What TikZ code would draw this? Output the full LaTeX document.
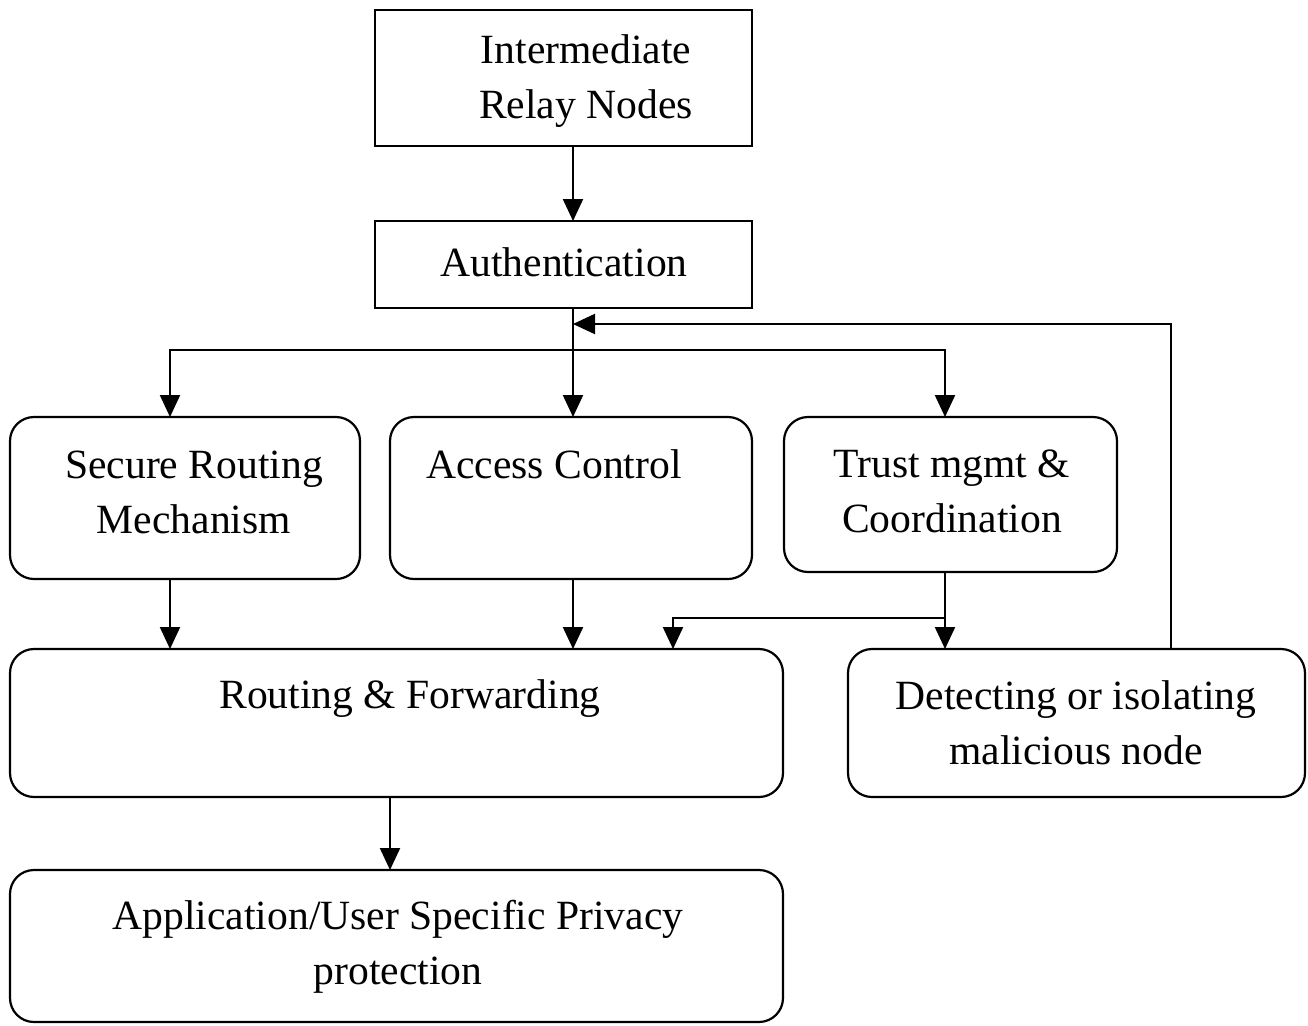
\documentclass[tikz,border=0pt]{standalone}
\usepackage{fontspec}
\setmainfont{Liberation Serif}
\usetikzlibrary{arrows.meta}
\begin{document}
\begin{tikzpicture}[x=0.5pt,y=-0.5pt,
  box/.style={draw,line width=1.1pt,inner sep=0pt,outer sep=0pt},
  rbox/.style={box,rounded corners=12pt},
  txt/.style={inner sep=0pt,align=center,font=\fontsize{20.8}{27.5}\selectfont},
  arr/.style={line width=1.1pt,-{Triangle[width=10pt,length=11pt]}},
  ln/.style={line width=1.1pt}]
\useasboundingbox (0,0) rectangle (1308,1025);
% boxes
\node[box,minimum width=188.5pt,minimum height=68pt] (inter) at (563.5,78) {};
\node[box,minimum width=188.5pt,minimum height=43.5pt] (auth) at (563.5,264.5) {};
\node[rbox,minimum width=175pt,minimum height=81pt] (srm) at (185,498) {};
\node[rbox,minimum width=181pt,minimum height=81pt] (ac) at (571,498) {};
\node[rbox,minimum width=166.5pt,minimum height=77.5pt] (tr) at (950.5,494.5) {};
\node[rbox,minimum width=386.5pt,minimum height=74pt] (rf) at (396.5,723) {};
\node[rbox,minimum width=228.5pt,minimum height=74pt] (det) at (1076.5,723) {};
\node[rbox,minimum width=386.5pt,minimum height=76pt] (app) at (396.5,946) {};
% texts
\node[txt] (interT) at (586,81) {Intermediate\\Relay Nodes};
\node[txt] (authT) at (564,262) {Authentication};
\node[txt] (srmT) at (194,492) {Secure Routing\\Mechanism};
\node[txt] (acT) at (554,464) {Access Control};
\node[txt] (trT) at (952,491) {Trust mgmt \&\\Coordination};
\node[txt] (rfT) at (410,699) {Routing \& Forwarding};
\node[txt] (detT) at (1076,723) {Detecting or isolating\\malicious node};
\node[txt] (appT) at (398,947) {Application/User Specific Privacy\\protection};
% helper coordinates
\coordinate (cx) at (573,0);
\coordinate (xa) at (170,0);
\coordinate (xb) at (945,0);
\coordinate (xr) at (673,0);
\coordinate (xf) at (1171,0);
\coordinate (xd) at (390,0);
\coordinate (j1) at (573,350);
\coordinate (j2) at (945,618);
\coordinate (fb) at (573,324);
% connectors
\draw[arr] (inter.south -| cx) -- (auth.north -| cx);
\draw[arr] (auth.south -| cx) -- (ac.north -| cx);
\draw[arr] (j1) -| (srm.north -| xa);
\draw[arr] (j1) -| (tr.north -| xb);
\draw[arr] (det.north -| xf) |- (fb);
\draw[arr] (srm.south -| xa) -- (rf.north -| xa);
\draw[arr] (ac.south -| cx) -- (rf.north -| cx);
\draw[arr] (tr.south -| xb) -- (det.north -| xb);
\draw[arr] (j2) -| (rf.north -| xr);
\draw[arr] (rf.south -| xd) -- (app.north -| xd);
\end{tikzpicture}
\end{document}
